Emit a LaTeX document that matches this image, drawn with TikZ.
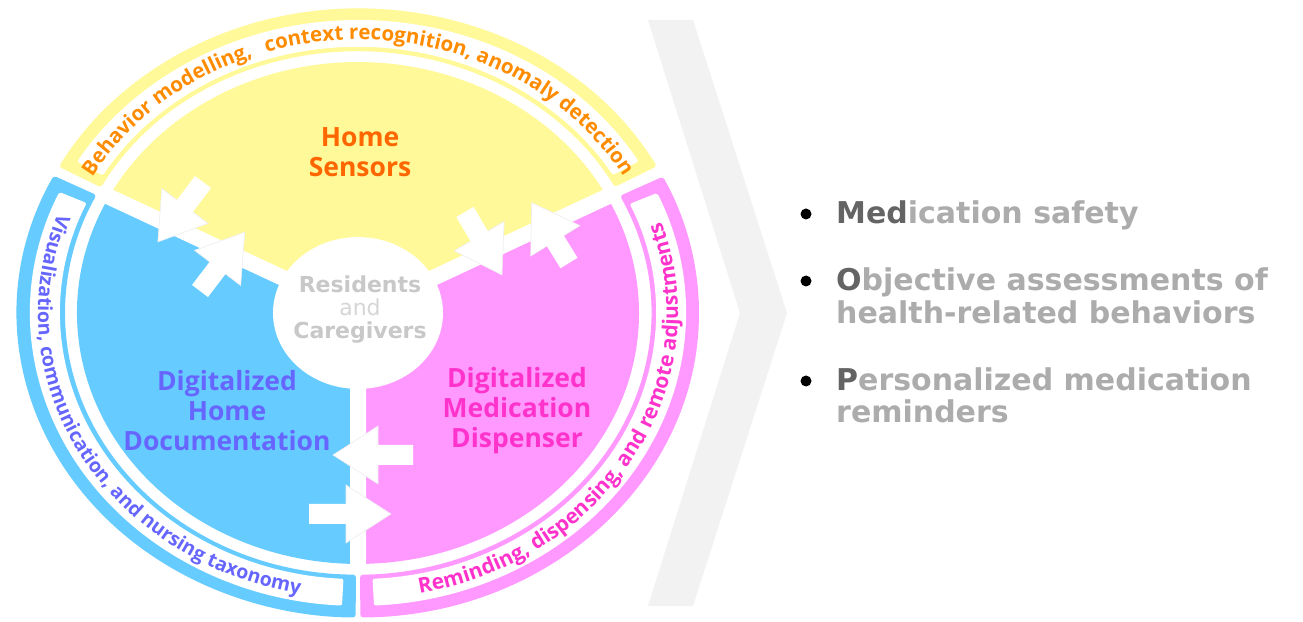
\documentclass[tikz,border=0pt]{standalone}
\usepackage{fontspec}
\setmainfont{Open Sans}
\newfontfamily\dvfont{DejaVu Sans}
\usetikzlibrary{decorations.text}
\definecolor{ybg}{RGB}{255,249,153}
\definecolor{bbg}{RGB}{102,204,255}
\definecolor{pbg}{RGB}{255,153,255}
\definecolor{ytx}{RGB}{255,102,0}
\definecolor{yarc}{RGB}{255,140,0}
\definecolor{btx}{RGB}{102,102,255}
\definecolor{ptx}{RGB}{255,51,204}
\definecolor{ctx}{RGB}{200,200,200}
\definecolor{ctxb}{RGB}{214,214,214}
\definecolor{chev}{RGB}{242,242,242}
\definecolor{darkg}{RGB}{100,100,100}
\definecolor{lightg}{RGB}{172,172,172}
\tikzset{
  pics/blockarrow/.style={code={
    \fill[white] (0,-10) -- (#1-45,-10) -- (#1-45,-29) -- (#1,0) -- (#1-45,29) -- (#1-45,10) -- (0,10) -- cycle;
    \draw[black!7, line width=0.6] (#1-45,-10) -- (#1-45,-29) -- (#1,0) -- (#1-45,29) -- (#1-45,10);
  }},
  seclabel/.style={font=\fontsize{26.5}{30}\selectfont\bfseries, align=center, inner sep=0},
  listtext/.style={font=\dvfont\fontsize{30}{33}\selectfont\bfseries, text=lightg, anchor=base west, inner sep=0},
  bulletdot/.style={circle, fill=black, minimum size=11, inner sep=0},
}
\newcommand{\ringseg}[3]{% start, end, colour
  \fill[#3, rounded corners=3] (#1:341) arc[start angle=#1, end angle=#2, radius=341]
     -- (#2:293) arc[start angle=#2, end angle=#1, radius=293] -- cycle;
  \fill[white, rounded corners=2] (#1+2.4:328) arc[start angle=#1+2.4, end angle=#2-2.4, radius=328]
     -- (#2-2.4:298) arc[start angle=#2-2.4, end angle=#1+2.4, radius=298] -- cycle;
}
\begin{document}
\begin{tikzpicture}[x=1pt,y=1pt]
\useasboundingbox (0,0) rectangle (1303,621);
\fill[white] (0,0) rectangle (1303,621);
% chevron
\fill[chev] (648,601) -- (693,601) -- (787,308) -- (693,15) -- (648,15) -- (740,308) -- cycle;

\begin{scope}[shift={(358,308)}, yscale=0.893]
  % sectors
  \fill[ybg] (0,0) -- (27.6:281) arc[start angle=27.6, end angle=152.4, radius=281] -- cycle;
  \fill[bbg] (0,0) -- (152.4:281) arc[start angle=152.4, end angle=270, radius=281] -- cycle;
  \fill[pbg] (0,0) -- (270:281) arc[start angle=270, end angle=387.6, radius=281] -- cycle;
  \draw[white, line width=16] (0,0) -- (27.6:292) (0,0) -- (152.4:292) (0,0) -- (270:292);
  \fill[white] (0,0) circle[radius=85];
  % outer ring segments
  \ringseg{28.8}{151.3}{ybg}
  \ringseg{153.2}{269.6}{bbg}
  \ringseg{270.4}{386.6}{pbg}
  % arc texts
  \path[decorate, decoration={text along path, text align=center, text color=yarc,
      text={|\fontsize{20.5}{21}\selectfont\bfseries|Behavior modelling,{\hspace{14pt}}context recognition, anomaly detection}}]
      (151:306) arc[start angle=151, end angle=29, radius=306];
  \path[decorate, decoration={text along path, text align=center, text color=btx,
      text={|\fontsize{19.5}{20}\selectfont\bfseries|Visualization, communication, and nursing taxonomy}}]
      (158:320) arc[start angle=158, end angle=261, radius=320];
  \path[decorate, decoration={text along path, text align=center, text color=ptx,
      text={|\fontsize{21}{21}\selectfont\bfseries|Reminding, dispensing, and remote adjustments}}]
      (279:320) arc[start angle=279, end angle=381, radius=320];
\end{scope}

% arrows
\pic[rotate=233] at (203,439) {blockarrow=75};
\pic[rotate=52.7] at (200,330) {blockarrow=74};
\pic[rotate=300.4] at (465,409) {blockarrow=73};
\pic[rotate=121.7] at (569,358) {blockarrow=71};
\pic[rotate=180] at (413,166) {blockarrow=80};
\pic[rotate=0] at (309,107) {blockarrow=82};

% labels
\node[seclabel, text=ytx] (home) at (360,469) {Home\\Sensors};
\node[seclabel, text=btx] (doc) at (227,210) {Digitalized\\Home\\Documentation};
\node[seclabel, text=ptx] (disp) at (517,210) {Digitalized\\Medication\\Dispenser};
\node[align=center, inner sep=0, font=\dvfont\fontsize{22}{23}\selectfont] (res) at (360,311)
  {\textcolor{ctx}{\bfseries Residents}\\\textcolor{ctxb}{and}\\\textcolor{ctx}{\bfseries Caregivers}};

% list
\node[bulletdot] (b1) at (806,407) {};
\node[bulletdot] (b2) at (806,340) {};
\node[bulletdot] (b3) at (806,240) {};
\node[listtext] (t1) at (836,397) {\textcolor{darkg}{Med}ication safety};
\node[listtext] (t2) at (836,330) {\textcolor{darkg}{O}bjective assessments of};
\node[listtext] (t2b) at (836,297) {health-related behaviors};
\node[listtext] (t3) at (836,230) {\textcolor{darkg}{P}ersonalized medication};
\node[listtext] (t3b) at (836,198) {reminders};
\end{tikzpicture}
\end{document}
